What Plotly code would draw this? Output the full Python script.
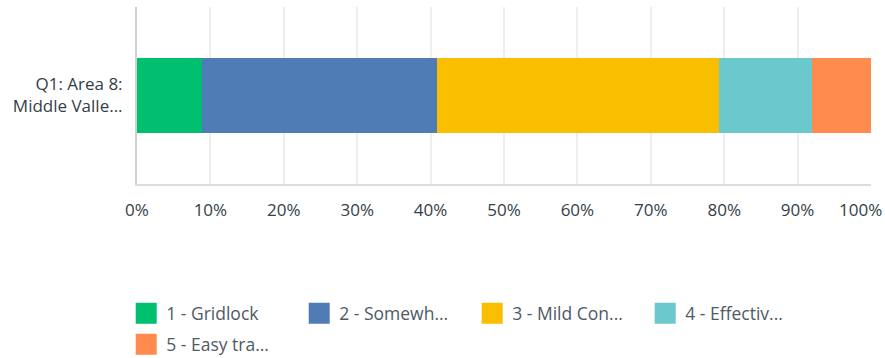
import plotly.graph_objects as go

categories = ["Q1: Area 8:<br>Middle Valle..."]
series_names = ["1 - Gridlock", "2 - Somewh...", "3 - Mild Con...", "4 - Effectiv...", "5 - Easy tra..."]
series_values = [8.9, 32.0, 38.4, 12.6, 8.1]
colors = ["#00bf6f", "#507cb6", "#f9be00", "#6bc8cd", "#ff8b4f"]
legend_ids = ["legend", "legend", "legend", "legend", "legend2"]
tick_vals = [0, 10, 20, 30, 40, 50, 60, 70, 80, 90, 100]
tick_text = ["0%", "10%", "20%", "30%", "40%", "50%", "60%", "70%", "80%", "90%", "100%"]

font_family = "'Open Sans', sans-serif"
text_color = "#333e48"
legend_color = "#4f5a65"

fig = go.Figure()
for name, val, col in zip(series_names, series_values, colors):
    fig.add_trace(go.Bar(
        x=[val], y=categories, orientation="h", name=name,
        marker=dict(color=col, line=dict(width=0)),
        width=0.422, showlegend=False, hoverinfo="x+name",
    ))
for name, col, lg in zip(series_names, colors, legend_ids):
    fig.add_trace(go.Scatter(
        x=[None], y=[None], mode="markers", name=name, legend=lg,
        marker=dict(symbol="square", size=16, color=col, line=dict(color=col, width=5)),
        showlegend=True,
    ))

legend_common = dict(
    orientation="h", x=-0.0147, xanchor="left", yanchor="middle",
    entrywidth=128, entrywidthmode="pixels", traceorder="normal",
    font=dict(family=font_family, size=17.5, color=legend_color),
    itemclick=False, itemdoubleclick=False, bgcolor="rgba(0,0,0,0)",
)

# the last tick label sits flush with the right edge of the canvas (as in the reference)
axis_ticktext = tick_text[:-1] + [""]

fig.update_layout(
    barmode="stack",
    width=885, height=358,
    margin=dict(l=137, r=14, t=7, b=174, autoexpand=False),
    plot_bgcolor="white", paper_bgcolor="white",
    font=dict(family=font_family, size=17, color=text_color),
    xaxis=dict(
        range=[0, 100], tickvals=tick_vals, ticktext=axis_ticktext,
        showgrid=True, gridcolor="#eeeeee", gridwidth=2,
        zeroline=False, showline=True, linecolor="#dddddd", linewidth=2,
        ticks="outside", ticklen=0, ticklabelstandoff=10,
        automargin=False,
        tickfont=dict(size=17, color=text_color), fixedrange=True,
    ),
    yaxis=dict(
        showgrid=False, zeroline=False, showline=True, linecolor="#d0d0d0", linewidth=2,
        range=[-0.5, 0.5], ticks="outside", ticklen=0, ticklabelstandoff=9,
        automargin=False,
        tickfont=dict(size=17, color=text_color), fixedrange=True,
    ),
    legend=dict(y=-0.7305, **legend_common),
    legend2=dict(y=-0.9056, **legend_common),
    annotations=[dict(
        x=tick_vals[-1], xref="x", y=0, yref="paper",
        text=tick_text[-1], showarrow=False,
        xanchor="right", yanchor="top", xshift=13, yshift=-12,
        font=dict(family=font_family, size=17, color=text_color),
    )],
)

fig.write_html("out.html", config={"displayModeBar": False},
               post_script="document.body.style.margin='0px';")
